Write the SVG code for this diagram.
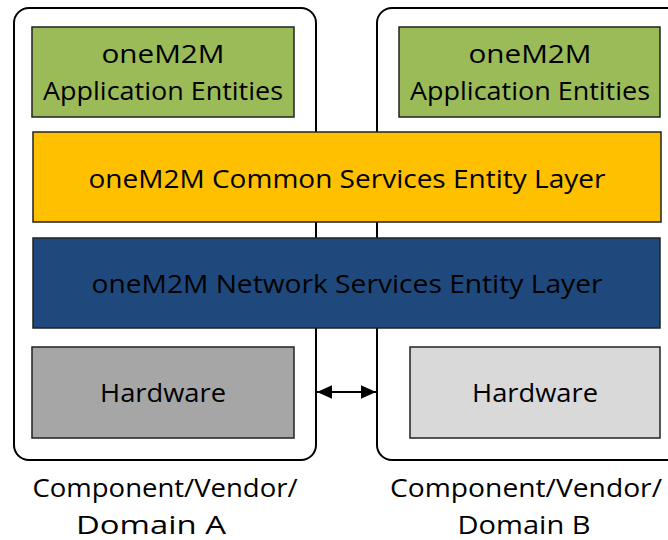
<svg xmlns="http://www.w3.org/2000/svg" width="668" height="540" viewBox="0 0 668 540">
<style>
.t{font-family:"Open Sans","Liberation Sans",sans-serif;font-size:25px;fill:#000;text-anchor:middle}
.cont{fill:#fff;stroke:#000;stroke-width:2}
.box{stroke:#222;stroke-width:1.5}
</style>
<defs>
<marker id="ah" viewBox="0 0 10 10" refX="10" refY="5" markerWidth="15" markerHeight="15" markerUnits="userSpaceOnUse" orient="auto-start-reverse">
<path d="M0,0.5 L10,5 L0,9.5 z" fill="#000"/>
</marker>
</defs>
<rect width="668" height="540" fill="#fff"/>
<g id="domainA">
<rect class="cont" x="14" y="8" width="302" height="452" rx="15"/>
</g>
<g id="domainB">
<rect class="cont" x="377" y="8" width="320" height="452" rx="15"/>
</g>
<g id="appA">
<rect class="box" x="32" y="27" width="262" height="90" fill="#9BBB59"/>
<text class="t" x="163" y="63" textLength="123" lengthAdjust="spacingAndGlyphs">oneM2M</text>
<text class="t" x="163" y="100" textLength="240" lengthAdjust="spacingAndGlyphs">Application Entities</text>
</g>
<g id="appB">
<rect class="box" x="399" y="27" width="261" height="90" fill="#9BBB59"/>
<text class="t" x="530" y="63" textLength="123" lengthAdjust="spacingAndGlyphs">oneM2M</text>
<text class="t" x="530" y="100" textLength="240" lengthAdjust="spacingAndGlyphs">Application Entities</text>
</g>
<g id="cse">
<rect class="box" x="33" y="132" width="628" height="90" fill="#FFC000"/>
<text class="t" x="347" y="188" textLength="517" lengthAdjust="spacingAndGlyphs">oneM2M Common Services Entity Layer</text>
</g>
<g id="nse">
<rect class="box" x="33" y="238" width="627" height="90" fill="#1F497D"/>
<text class="t" x="347" y="293" textLength="511" lengthAdjust="spacingAndGlyphs">oneM2M Network Services Entity Layer</text>
</g>
<g id="hwA">
<rect class="box" x="32" y="347" width="262" height="91" fill="#A6A6A6"/>
<text class="t" x="163" y="402" textLength="126" lengthAdjust="spacingAndGlyphs">Hardware</text>
</g>
<g id="hwB">
<rect class="box" x="410" y="347" width="250" height="91" fill="#D9D9D9"/>
<text class="t" x="535" y="402" textLength="126" lengthAdjust="spacingAndGlyphs">Hardware</text>
</g>
<g id="labelA">
<text class="t" x="165" y="497" textLength="265" lengthAdjust="spacingAndGlyphs">Component/Vendor/</text>
<text class="t" x="151" y="534" textLength="150" lengthAdjust="spacingAndGlyphs">Domain A</text>
</g>
<g id="labelB">
<text class="t" x="526" y="497" textLength="272" lengthAdjust="spacingAndGlyphs">Component/Vendor/</text>
<text class="t" x="524" y="534" textLength="133" lengthAdjust="spacingAndGlyphs">Domain B</text>
</g>
<g id="connectors">
<line x1="317" y1="392" x2="376" y2="392" stroke="#000" stroke-width="2" marker-start="url(#ah)" marker-end="url(#ah)"/>
</g>
</svg>
